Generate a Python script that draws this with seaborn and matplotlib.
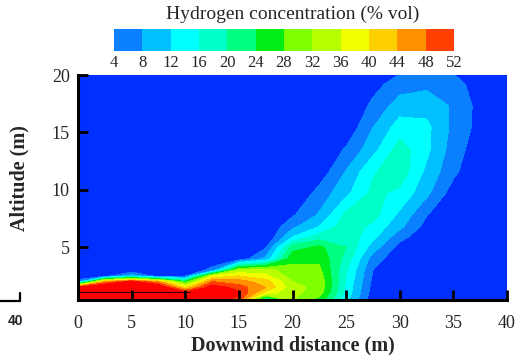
import numpy as np
import matplotlib
matplotlib.use("Agg")
import matplotlib.pyplot as plt
from matplotlib.colors import ListedColormap, BoundaryNorm
from matplotlib.cm import ScalarMappable
from matplotlib.lines import Line2D
import seaborn as sns

# grid of the simulated cloud
distance_m = [0, 2.5, 5, 7.5, 10, 12.5, 15, 17.5, 20, 22.5, 25, 27.5, 30, 32.5, 35, 37.5, 40]
altitude_m = [0.4, 1.0, 1.5, 2.0, 2.5, 3.0, 4.0, 5.0, 5.9, 6.8, 7.8, 9.7, 11.6, 13.5, 15.4, 17.3, 19.2, 20.0]

# hydrogen concentration (% vol), one row per altitude
h2_percent = [
    [60, 60, 60, 60, 60, 55, 50, 14, 32, 26, 13, 1.5, 0.5, 0, 0, 0, 0],
    [60, 60, 60, 60, 55, 56, 53, 38, 33, 30, 14.5, 2, 0.5, 0, 0, 0, 0],
    [55, 60, 60, 58, 40, 55, 50, 44, 33, 31, 15, 2.5, 1, 0, 0, 0, 0],
    [6, 45, 54, 45, 25, 48, 46, 42, 32, 31, 15.5, 3, 1, 0, 0, 0, 0],
    [0.5, 2, 10, 2, 3, 36, 40, 37, 30, 30, 16, 3.5, 1.2, 0, 0, 0, 0],
    [0, 0, 1, 0, 0, 5.5, 33, 34, 29, 29, 16.5, 4, 1.5, 0, 0, 0, 0],
    [0, 0, 0, 0, 0, 0.5, 1, 9, 27, 27, 18.5, 6, 1, 0, 0, 0, 0],
    [0, 0, 0, 0, 0, 0, 0, 3.5, 22, 25, 20, 10, 2.5, 0, 0, 0, 0],
    [0, 0, 0, 0, 0, 0, 0, 0, 12, 18, 19, 13, 5.5, 1, 0, 0, 0],
    [0, 0, 0, 0, 0, 0, 0, 0, 7, 12, 18.5, 15, 9, 2.5, 0, 0, 0],
    [0, 0, 0, 0, 0, 0, 0, 0, 3.5, 8.5, 17, 17.5, 11, 4.2, 0, 0, 0],
    [0, 0, 0, 0, 0, 0, 0, 0, 0, 5.5, 11, 17, 15, 9, 2, 0, 0],
    [0, 0, 0, 0, 0, 0, 0, 0, 0, 1.5, 8.2, 15.5, 18.5, 11, 5, 0, 0],
    [0, 0, 0, 0, 0, 0, 0, 0, 0, 0, 4.5, 10.5, 18, 13, 6, 1.5, 0],
    [0, 0, 0, 0, 0, 0, 0, 0, 0, 0, 1, 8, 14, 13, 7, 2.5, 0],
    [0, 0, 0, 0, 0, 0, 0, 0, 0, 0, 0, 5, 10, 10.5, 7.5, 2.5, 0],
    [0, 0, 0, 0, 0, 0, 0, 0, 0, 0, 0, 2.5, 6, 7, 6, 1.5, 0],
    [0, 0, 0, 0, 0, 0, 0, 0, 0, 0, 0, 1.5, 4.2, 5.5, 4.2, 0, 0],
]

levels = [4, 8, 12, 16, 20, 24, 28, 32, 36, 40, 44, 48, 52]
level_colors = ['#0a80ff', '#00c0ff', '#00ffff', '#00ffc8', '#00ff80', '#00ee18',
                '#80ff00', '#b8ff00', '#f0ff00', '#ffd000', '#ff9000', '#ff4000']
below_color = '#0030ff'
above_color = '#ff0000'

# thin dark line near the ground in the original
ground_line_x = [0, 10.4]
ground_line_alt = 1.1

sns.set_theme(style="white")
plt.rcParams['font.family'] = ['Liberation Serif', 'DejaVu Serif']

fig = plt.figure(figsize=(5.24, 3.55), dpi=100)
ax = fig.add_axes([0.1489, 0.1549, 0.8187, 0.6338])

cmap = ListedColormap(level_colors)
cmap.set_under(below_color)
cmap.set_over(above_color)
norm = BoundaryNorm(levels, cmap.N)

X, Y = np.meshgrid(distance_m, altitude_m)
Z = np.array(h2_percent)
ax.contourf(X, Y, Z, levels=levels, cmap=cmap, norm=norm, extend='both')
ax.plot(ground_line_x, [ground_line_alt, ground_line_alt], color='black', lw=0.6)

ax.set_xlim(0, 40)
ax.set_ylim(0.4, 20)
ax.set_xticks(range(0, 41, 5))
ax.set_yticks([5, 10, 15, 20])
ax.set_axisbelow(False)
ax.tick_params(direction='in', length=7, width=2, color='black', labelsize=13,
               bottom=True, left=True, top=False, right=False)
ax.tick_params(axis='x', pad=10.5)
ax.tick_params(axis='y', pad=6)
sns.despine(ax=ax)
for side in ['left', 'bottom']:
    ax.spines[side].set_color('black')
    ax.spines[side].set_linewidth(2.2)

ax.set_xlabel('Downwind distance (m)', fontsize=14.5, fontweight='bold', labelpad=3)
ax.set_ylabel('Altitude (m)', fontsize=14.5, fontweight='bold')
ax.yaxis.set_label_coords(-0.112, 0.54)

# colour scale on top
cax = fig.add_axes([0.2176, 0.8563, 0.6489, 0.062])
sm = ScalarMappable(norm=norm, cmap=ListedColormap(level_colors))
cb = fig.colorbar(sm, cax=cax, orientation='horizontal', ticks=levels)
cb.outline.set_visible(False)
cax.tick_params(length=0, labelsize=12, pad=3)
fig.text(293 / 524, 1 - 14 / 355, 'Hydrogen concentration (% vol)', ha='center', va='center', fontsize=14)

# leftover piece of a neighbouring panel at the bottom left
fig.text(15 / 524, 1 - 321 / 355, '40', ha='center', va='center', fontsize=10,
         fontweight='bold', family='Liberation Sans')
fig.add_artist(Line2D([0, 20 / 524], [1 - 301 / 355] * 2, color='black', lw=1.6))
fig.add_artist(Line2D([20 / 524] * 2, [1 - 301 / 355, 1 - 293 / 355], color='black', lw=1.6))

fig.savefig('out.png', dpi=100)
